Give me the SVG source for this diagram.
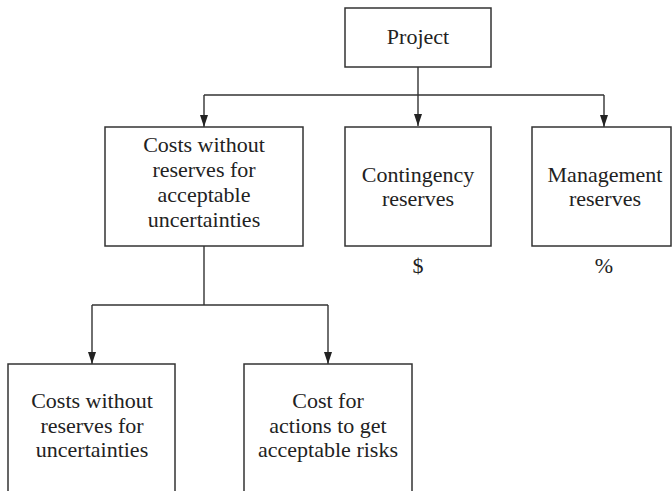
<svg xmlns="http://www.w3.org/2000/svg" width="672" height="491" viewBox="0 0 672 491">
<defs>
<style>
.box{fill:#fff;stroke:#333;stroke-width:1.5}
.ln{fill:none;stroke:#333;stroke-width:1.4}
.t{font-family:'Liberation Serif','Times New Roman',serif;font-size:22px;fill:#222;text-anchor:middle}
</style>
<marker id="ah" viewBox="0 0 12 8" refX="12" refY="4" markerWidth="12" markerHeight="8" markerUnits="userSpaceOnUse" orient="auto">
<path d="M0,0 L12,4 L0,8 Z" fill="#222"/>
</marker>
</defs>
<g id="connectors">
<path class="ln" d="M418,67 V126" marker-end="url(#ah)"/>
<path class="ln" d="M204,95 H604"/>
<path class="ln" d="M204,95 V127" marker-end="url(#ah)"/>
<path class="ln" d="M604,95 V127" marker-end="url(#ah)"/>
<path class="ln" d="M204,246 V305"/>
<path class="ln" d="M92,305 H328"/>
<path class="ln" d="M92,305 V364" marker-end="url(#ah)"/>
<path class="ln" d="M328,305 V364" marker-end="url(#ah)"/>
</g>
<g id="project">
<rect class="box" x="345" y="8" width="146" height="59"/>
<text class="t" x="418" y="44">Project</text>
</g>
<g id="costs-acceptable">
<rect class="box" x="105" y="127" width="198" height="119"/>
<text class="t" x="204" y="152">Costs without</text>
<text class="t" x="204" y="177">reserves for</text>
<text class="t" x="204" y="202">acceptable</text>
<text class="t" x="204" y="227">uncertainties</text>
</g>
<g id="contingency">
<rect class="box" x="345" y="127" width="146" height="119"/>
<text class="t" x="418" y="182">Contingency</text>
<text class="t" x="418" y="206">reserves</text>
<text class="t" x="418" y="273">$</text>
</g>
<g id="management">
<rect class="box" x="532" y="127" width="139" height="119"/>
<text class="t" x="605" y="182">Management</text>
<text class="t" x="605" y="206">reserves</text>
<text class="t" x="604" y="273">%</text>
</g>
<g id="costs-uncertainties">
<rect class="box" x="8" y="364" width="167" height="140"/>
<text class="t" x="92" y="408">Costs without</text>
<text class="t" x="92" y="433">reserves for</text>
<text class="t" x="92" y="457">uncertainties</text>
</g>
<g id="cost-actions">
<rect class="box" x="244" y="364" width="168" height="140"/>
<text class="t" x="328" y="408">Cost for</text>
<text class="t" x="328" y="433">actions to get</text>
<text class="t" x="328" y="457">acceptable risks</text>
</g>
</svg>
